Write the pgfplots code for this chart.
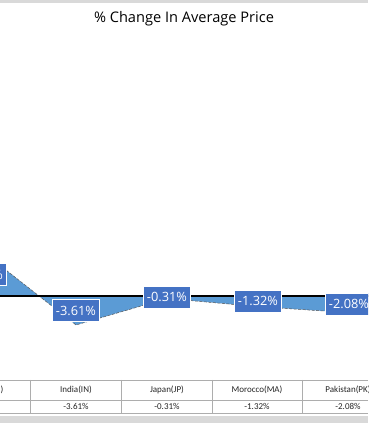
\documentclass[border=0pt]{standalone}
\usepackage{pgfplots}
\pgfplotsset{compat=1.18}
\usepackage{pgfplotstable}
\usepackage{fontspec}
\setmainfont{Open Sans}
\newfontfamily\tabfont{Carlito}
\definecolor{areablue}{HTML}{5B9BD5}
\definecolor{lblblue}{HTML}{4472C4}
\definecolor{tblgray}{HTML}{ADADAD}
\definecolor{framegray}{HTML}{D9D9D9}

\pgfplotstableread{
x v
0 5.28
1 -3.61
2 -0.31
3 -1.32
4 -2.08
}\pricedata

\begin{document}
\begin{tikzpicture}[x=1pt,y=1pt]
\clip (0,0) rectangle (368,423);
\fill[white] (0,0) rectangle (368,423);
\fill[framegray] (0,420) rectangle (368,423);
\fill[framegray] (0,0) rectangle (368,6.5);
\node[font=\fontsize{14.6}{16}\selectfont] at (184,404.5) {\% Change In Average Price};
\begin{axis}[at={(0pt,53pt)}, anchor=south west, scale only axis,
  width=368pt, height=330pt, enlargelimits=false,
  xmin=0.1648, xmax=4.2088, ymin=-9.215, ymax=31.88,
  axis lines=none, clip=false,
  /pgf/number format/assume math mode=true]
\addplot[draw=none, fill=areablue] table[x=x,y=v]{\pricedata} \closedcycle;
\addplot[line width=0.5pt, color=black!65, dash pattern=on 3pt off 1.5pt] table[x=x,y=v]{\pricedata};
\addplot[black, line width=1.3pt] coordinates {(0.1,0) (4.3,0)};
\addplot[draw=none, mark=none, point meta=\thisrow{v},
  nodes near coords={\pgfmathprintnumber[fixed, fixed zerofill, precision=2]{\pgfplotspointmeta}\%},
  nodes near coords style={anchor=center, fill=lblblue, draw=white, line width=0.8pt,
    text=white, font=\fontsize{12.8}{14}\selectfont, inner xsep=3.2pt,
    minimum height=22pt, text depth=0pt}]
  table[x=x, y expr=\thisrow{v}/2]{\pricedata};
\end{axis}
% data table
\draw[tblgray, line width=0.6pt] (0,43) -- (368,43) (0,23) -- (368,23) (0,10) -- (368,10);
\foreach \xx in {30,121,212,302} {\draw[tblgray, line width=0.6pt] (\xx,43) -- (\xx,10);}
\begin{scope}[every node/.style={font=\tabfont\fontsize{9}{10}\selectfont, text=black!85}]
\node at (-15,33) {China(CN)};
\node at (76,33) {India(IN)};
\node at (167,33) {Japan(JP)};
\node at (257,33) {Morocco(MA)};
\node at (348,33) {Pakistan(PK)};
\node at (-15,16.5) {5.28\%};
\node at (76,16.5) {-3.61\%};
\node at (167,16.5) {-0.31\%};
\node at (257,16.5) {-1.32\%};
\node at (348,16.5) {-2.08\%};
\end{scope}
\end{tikzpicture}
\end{document}
